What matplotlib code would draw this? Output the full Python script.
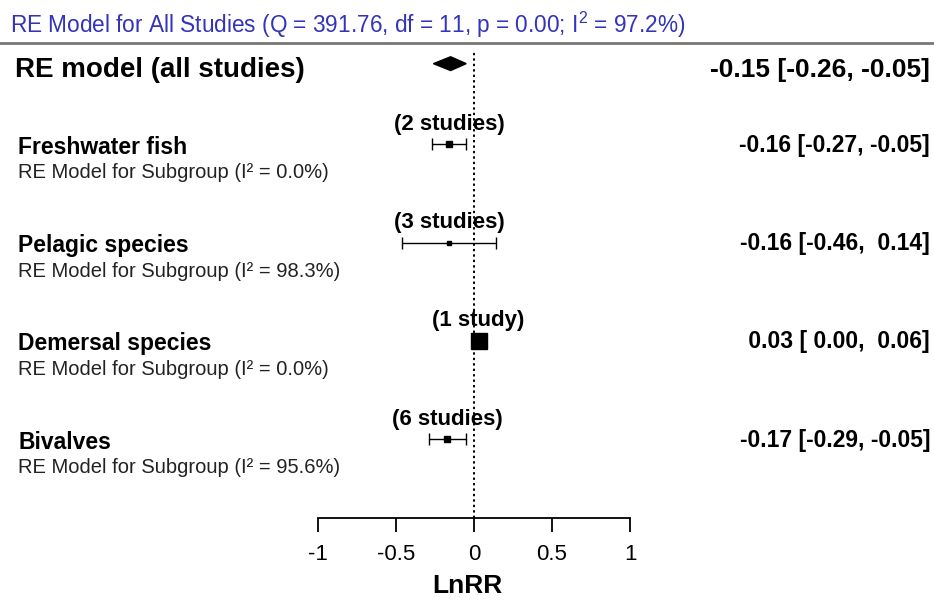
import matplotlib
matplotlib.use("Agg")
import matplotlib.pyplot as plt
from matplotlib.patches import Polygon

plt.rcParams['font.family'] = ['Liberation Sans', 'DejaVu Sans']
plt.rcParams['mathtext.fontset'] = 'custom'
plt.rcParams['mathtext.rm'] = 'Liberation Sans'

# overall random-effects model
overall_est = -0.15
overall_lo = -0.26
overall_hi = -0.05
overall_text = "-0.15 [-0.26, -0.05]"
title_text = r"RE Model for All Studies (Q = 391.76, df = 11, p = 0.00; I$^2$ = 97.2%)"

# subgroups
groups = ["Freshwater fish", "Pelagic species", "Demersal species", "Bivalves"]
group_i2 = ["0.0%", "98.3%", "0.0%", "95.6%"]
group_n = ["(2 studies)", "(3 studies)", "(1 study)", "(6 studies)"]
group_est = [-0.16, -0.16, 0.03, -0.17]
group_lo = [-0.27, -0.46, 0.00, -0.29]
group_hi = [-0.05, 0.14, 0.06, -0.05]
group_text = ["-0.16 [-0.27, -0.05]", "-0.16 [-0.46,  0.14]",
              " 0.03 [ 0.00,  0.06]", "-0.17 [-0.29, -0.05]"]
marker_size = [6, 4, 16, 6]

ticks = [-1, -0.5, 0, 0.5, 1]
tick_labels = ["-1", "-0.5", "0", "0.5", "1"]

fig = plt.figure(figsize=(9.34, 6.01), dpi=100)
ax = fig.add_axes([0, 83 / 601, 1, 475 / 601])

# x scale: -1 at 318px, 1 at 630px
ppu = 156.0
ax.set_xlim(-1 - 318 / ppu, 1 + (934 - 630) / ppu)
ax.set_ylim(4.8, -0.03)

overall_y = 0.18
rows = [1, 2, 3, 4]

# reference line
ax.axvline(0, ymin=0, ymax=0.985, color='black', ls=(0, (1.2, 1.6)), lw=1.4)

# overall diamond
h = 0.07
diamond = Polygon([(overall_lo, overall_y), (overall_est, overall_y - h),
                   (overall_hi, overall_y), (overall_est, overall_y + h)],
                  closed=True, facecolor='black', edgecolor='black')
ax.add_patch(diamond)

for y, est, lo, hi, ms, n in zip(rows, group_est, group_lo, group_hi, marker_size, group_n):
    if hi - lo > 0.07:
        ax.errorbar(est, y, xerr=[[est - lo], [hi - est]], fmt='none',
                    ecolor='black', elinewidth=1.0, capsize=4, capthick=1.0)
    ax.plot(est, y, marker='s', color='black', markersize=ms * 0.72, ls='none')
    ax.annotate(n, xy=(est, y), xytext=(0, 7), textcoords='offset points',
                ha='center', va='bottom', fontsize=16, fontweight='bold')

tr = ax.get_yaxis_transform()
ax.text(15 / 934, overall_y + 0.06, "RE model (all studies)", transform=tr,
        ha='left', va='center', fontsize=20, fontweight='bold')
ax.text(930 / 934, overall_y + 0.06, overall_text, transform=tr,
        ha='right', va='center', fontsize=19, fontweight='bold')

for y, name, i2, txt in zip(rows, groups, group_i2, group_text):
    ax.text(18 / 934, y + 0.03, name, transform=tr, ha='left', va='center',
            fontsize=16.5, fontweight='bold')
    ax.text(18 / 934, y + 0.29, "RE Model for Subgroup (I\u00b2 = " + i2 + ")",
            transform=tr, ha='left', va='center', fontsize=14.5, color='#222222')
    ax.text(930 / 934, y + 0.01, txt, transform=tr, ha='right', va='center',
            fontsize=16.5, fontweight='bold')

# spines
for s in ['left', 'right']:
    ax.spines[s].set_visible(False)
ax.spines['top'].set_color('#777777')
ax.spines['top'].set_linewidth(2)
ax.spines['bottom'].set_bounds(-1, 1)
ax.spines['bottom'].set_linewidth(1.3)
ax.set_yticks([])
ax.set_xticks(ticks)
ax.set_xticklabels(tick_labels, fontsize=16)
ax.tick_params(axis='x', direction='out', length=10, width=1.3, pad=9)
ax.set_xlabel("LnRR", fontsize=19, fontweight='bold', labelpad=6)

fig.text(10 / 934, 1 - 25 / 601, title_text, ha='left', va='center',
         fontsize=16.3, color='#3333bb')

fig.savefig("out.png", dpi=100)
